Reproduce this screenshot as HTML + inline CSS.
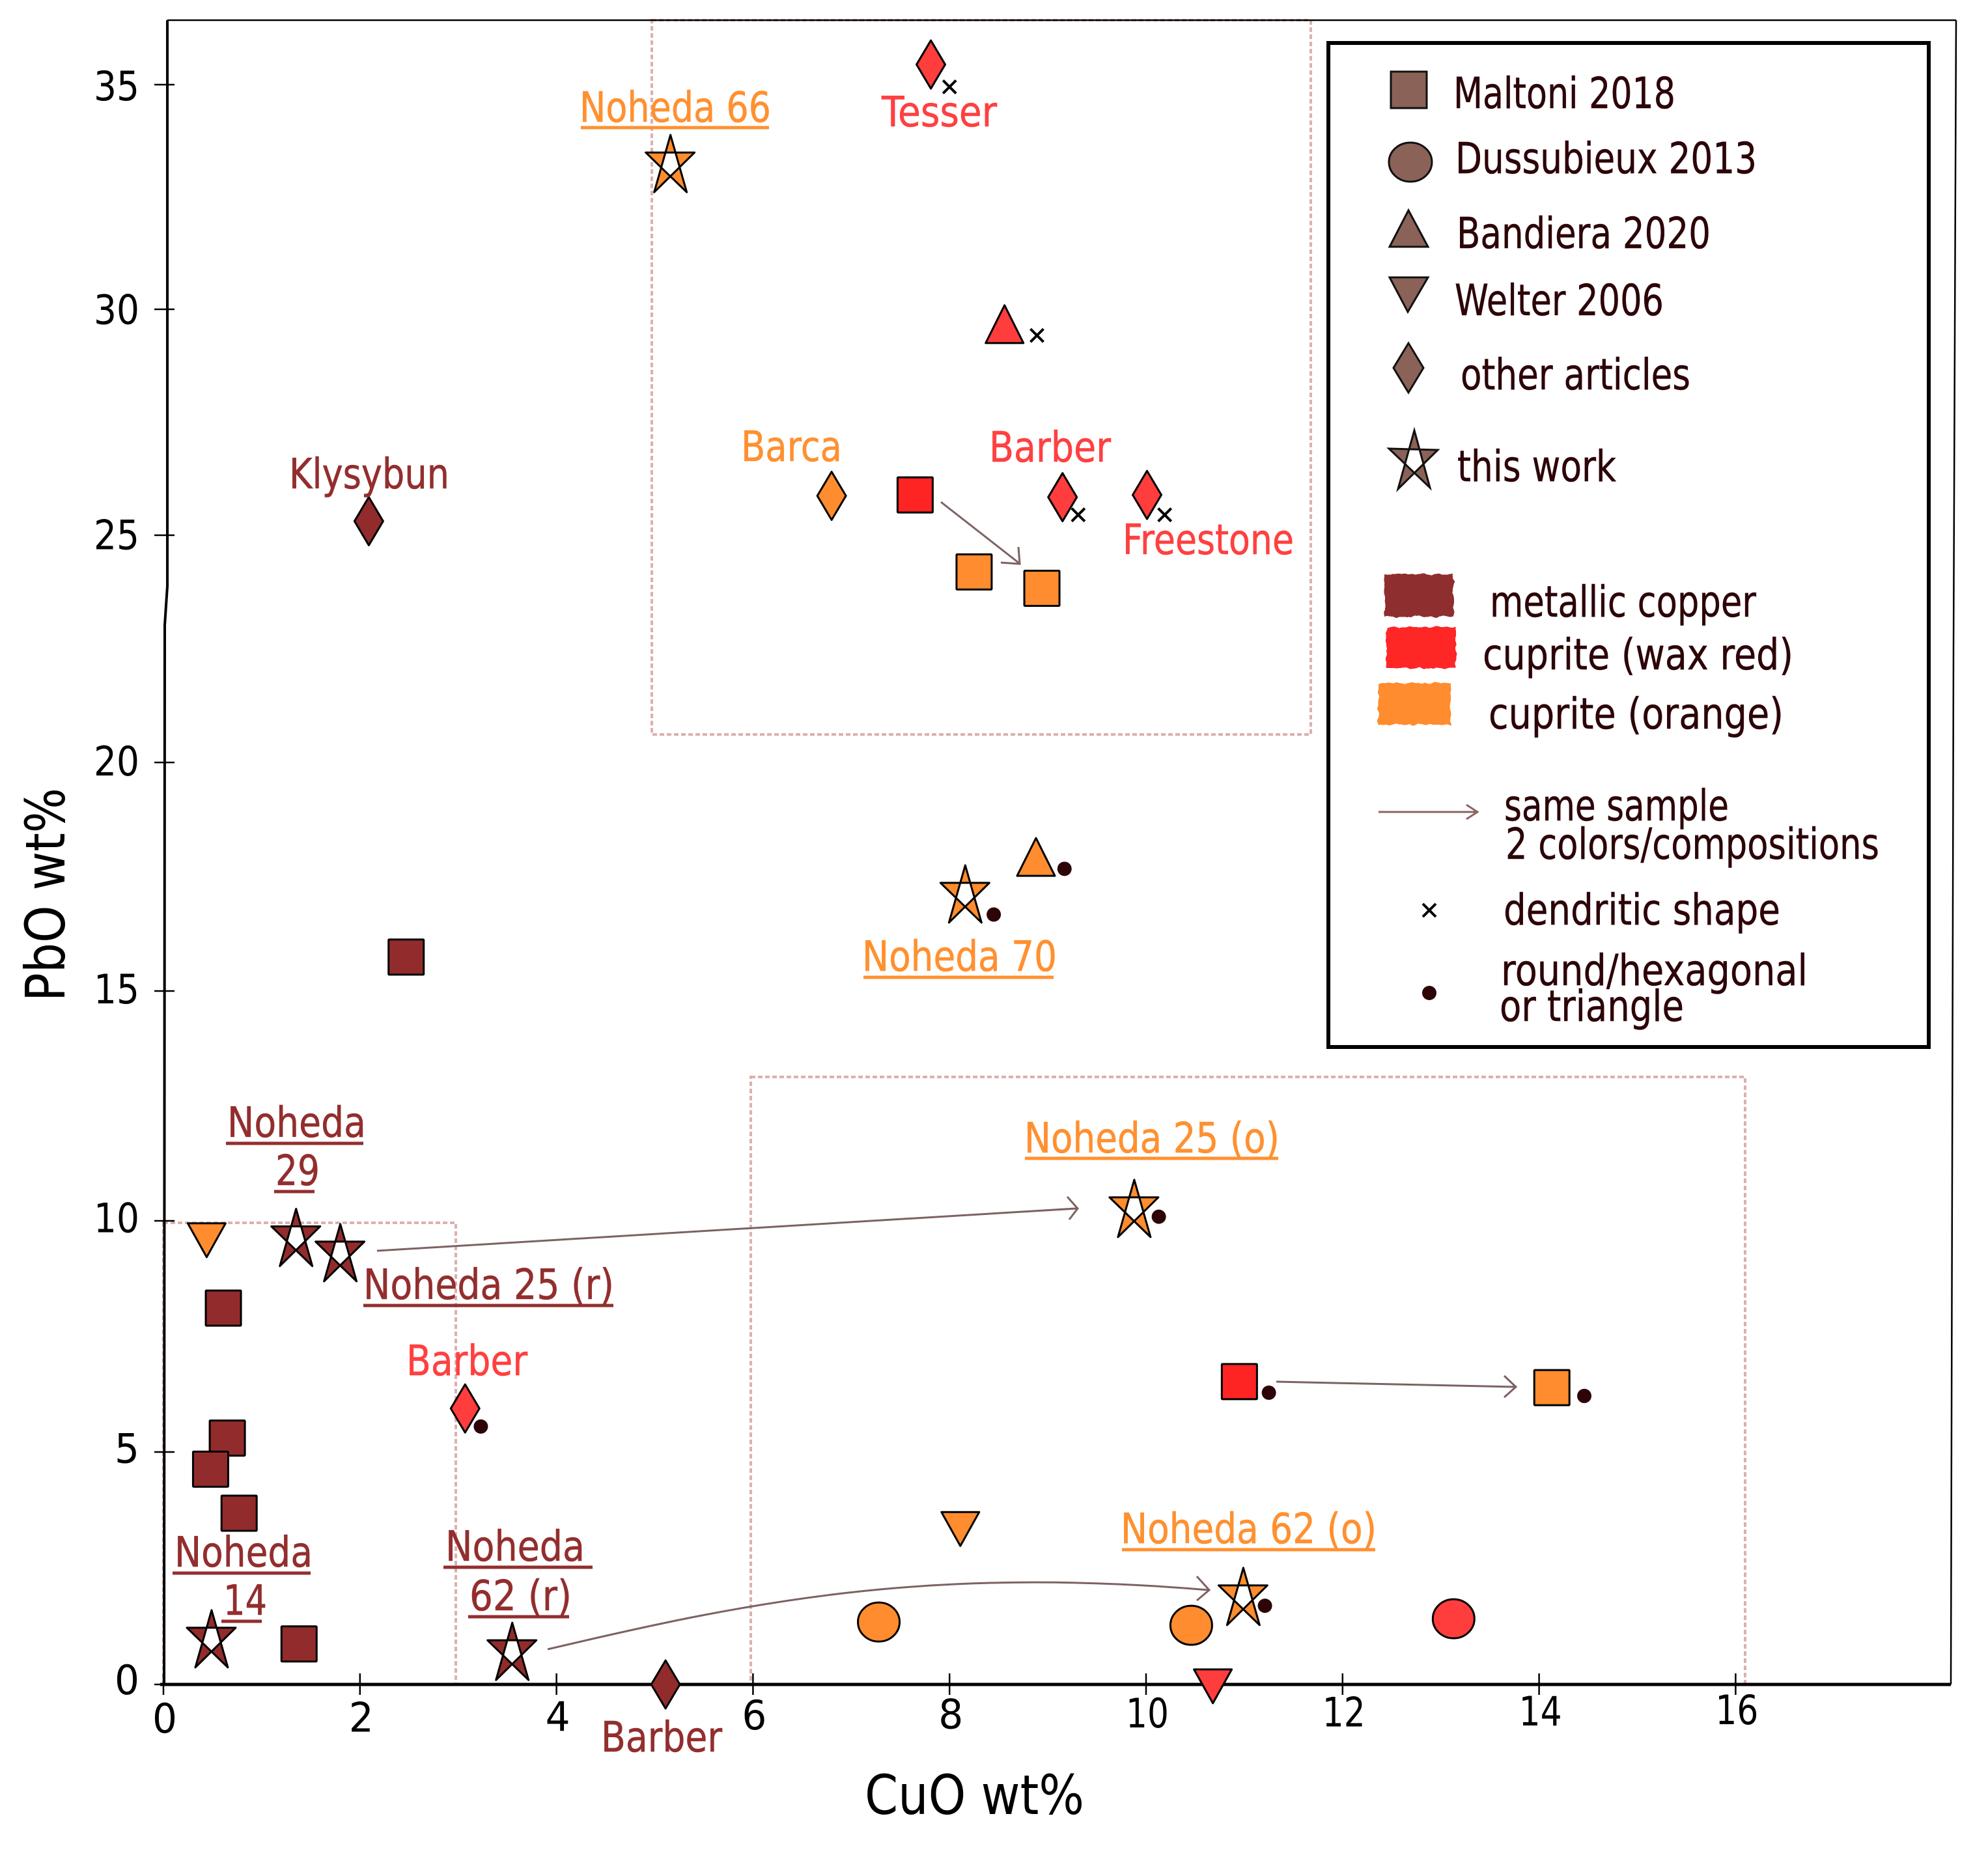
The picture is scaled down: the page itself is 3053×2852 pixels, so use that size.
<!DOCTYPE html>
<html lang="en">
<head>
<meta charset="utf-8">
<title>CuO vs PbO scatter chart</title>
<style>
html,body{margin:0;padding:0;background:#fff;}
svg{display:block;}
text{font-family:"DejaVu Sans","Liberation Sans",sans-serif;}
.lg{font-size:66px;fill:#2d0508;stroke:#2d0508;stroke-width:.5;}
.an{font-size:64px;stroke-width:.6;}
.dark{fill:#932e2e;stroke:#932e2e;}
.red{fill:#ff4040;stroke:#ff4040;}
.org{fill:#ff9030;stroke:#ff9030;}
.tick{font-size:62px;fill:#000;}
.title{font-size:84px;fill:#000;}
.ul-dark{stroke:#932e2e;stroke-width:5;}
.ul-org{stroke:#ff9030;stroke-width:5;}
.box{fill:none;stroke:#dcb0b0;stroke-width:4;stroke-dasharray:7 4;}
.arrow{fill:none;stroke:#7d6262;stroke-width:3;}
.lm{fill:#8a6257;stroke:#111;stroke-width:3;}
</style>
</head>
<body>
<svg id="chart" xmlns="http://www.w3.org/2000/svg" width="3053" height="2852" viewBox="0 0 3053 2852">
  <defs>
    <filter id="brush" x="-5%" y="-10%" width="110%" height="120%">
      <feTurbulence type="fractalNoise" baseFrequency="0.08" numOctaves="2" seed="4" result="n"/>
      <feDisplacementMap in="SourceGraphic" in2="n" scale="7"/>
    </filter>
  </defs>
  <rect x="0" y="0" width="3053" height="2852" fill="#fff"/>

  <g>
    <rect class="box" x="1001" y="31" width="1012" height="1097"/>
    <rect class="box" x="1153" y="1654" width="1527" height="933"/>
    <rect class="box" x="251" y="1878" width="449" height="709"/>
  </g>

  <g fill="none" stroke="#000">
    <path stroke-width="2.5" d="M257 31H3004"/>
    <path stroke-width="2.5" d="M3004 31L3000 1000L2996 2587"/>
    <path stroke-width="4" d="M257 31L257 900L253 960L252 2587"/>
    <path stroke-width="5" d="M246 2587H2996"/>
  </g>
  <g id="ticks"></g>

  <text class="title" x="1328" y="2786" textLength="337" lengthAdjust="spacingAndGlyphs">CuO wt%</text>
  <text class="title" transform="translate(99 1538) rotate(-90)" x="0" y="0" textLength="328" lengthAdjust="spacingAndGlyphs">PbO wt%</text>

  <g>
    <g class="arrow"><path d="M1445 771L1564 864M1564 840L1566 866L1537 864"/></g>
    <g class="arrow"><path d="M579 1921L1653 1856M1639 1838L1655 1856L1642 1873"/></g>
    <g class="arrow"><path d="M1960 2122L2327 2130M2310 2113L2328 2130L2310 2146"/></g>
    <g class="arrow"><path d="M841 2533C1150 2460 1420 2405 1856 2442M1838 2421L1857 2442L1838 2458"/></g>
  </g>

  <g id="marks"></g>

  <g>
    <text class="an org" x="890" y="187" textLength="294" lengthAdjust="spacingAndGlyphs">Noheda 66</text>
    <line class="ul-org" x1="892" x2="1181" y1="196" y2="196"/>
    <text class="an red" x="1354" y="194" textLength="177" lengthAdjust="spacingAndGlyphs">Tesser</text>
    <text class="an org" x="1138" y="708" textLength="155" lengthAdjust="spacingAndGlyphs">Barca</text>
    <text class="an red" x="1519" y="709" textLength="187" lengthAdjust="spacingAndGlyphs">Barber</text>
    <text class="an red" x="1724" y="851" textLength="263" lengthAdjust="spacingAndGlyphs">Freestone</text>
    <text class="an dark" x="444" y="750" textLength="246" lengthAdjust="spacingAndGlyphs">Klysybun</text>
    <text class="an org" x="1324" y="1491" textLength="299" lengthAdjust="spacingAndGlyphs">Noheda 70</text>
    <line class="ul-org" x1="1326" x2="1618" y1="1501" y2="1501"/>
    <text class="an dark" x="349" y="1746" textLength="213" lengthAdjust="spacingAndGlyphs">Noheda</text>
    <line class="ul-dark" x1="347" x2="558" y1="1756" y2="1756"/>
    <text class="an dark" x="423" y="1820" textLength="68" lengthAdjust="spacingAndGlyphs">29</text>
    <line class="ul-dark" x1="421" x2="483" y1="1830" y2="1830"/>
    <text class="an dark" x="558" y="1995" textLength="385" lengthAdjust="spacingAndGlyphs">Noheda 25 (r)</text>
    <line class="ul-dark" x1="558" x2="942" y1="2005" y2="2005"/>
    <text class="an red" x="624" y="2112" textLength="186" lengthAdjust="spacingAndGlyphs">Barber</text>
    <text class="an dark" x="268" y="2406" textLength="212" lengthAdjust="spacingAndGlyphs">Noheda</text>
    <line class="ul-dark" x1="265" x2="477" y1="2416" y2="2416"/>
    <text class="an dark" x="343" y="2480" textLength="67" lengthAdjust="spacingAndGlyphs">14</text>
    <line class="ul-dark" x1="340" x2="402" y1="2490" y2="2490"/>
    <text class="an dark" x="684" y="2397" textLength="214" lengthAdjust="spacingAndGlyphs">Noheda</text>
    <line class="ul-dark" x1="681" x2="910" y1="2407" y2="2407"/>
    <text class="an dark" x="721" y="2473" textLength="157" lengthAdjust="spacingAndGlyphs">62 (r)</text>
    <line class="ul-dark" x1="719" x2="874" y1="2483" y2="2483"/>
    <text class="an dark" x="923" y="2690" textLength="186" lengthAdjust="spacingAndGlyphs">Barber</text>
    <text class="an org" x="1573" y="1770" textLength="392" lengthAdjust="spacingAndGlyphs">Noheda 25 (o)</text>
    <line class="ul-org" x1="1574" x2="1963" y1="1779" y2="1779"/>
    <text class="an org" x="1721" y="2370" textLength="393" lengthAdjust="spacingAndGlyphs">Noheda 62 (o)</text>
    <line class="ul-org" x1="1723" x2="2112" y1="2380" y2="2380"/>
  </g>

  <g>
    <rect x="2040" y="66" width="922" height="1542" fill="#fff" stroke="#000" stroke-width="6"/>

    <rect class="lm" x="2136" y="110" width="55" height="56"/>
    <text class="lg" x="2232" y="166" textLength="341" lengthAdjust="spacingAndGlyphs">Maltoni 2018</text>
    <ellipse class="lm" cx="2166" cy="249" rx="33" ry="30"/>
    <text class="lg" x="2235" y="266" textLength="463" lengthAdjust="spacingAndGlyphs">Dussubieux 2013</text>
    <polygon class="lm" points="2163,323 2193,379 2134,379"/>
    <text class="lg" x="2237" y="381" textLength="390" lengthAdjust="spacingAndGlyphs">Bandiera 2020</text>
    <polygon class="lm" points="2134,426 2193,426 2162,479"/>
    <text class="lg" x="2234" y="484" textLength="321" lengthAdjust="spacingAndGlyphs">Welter 2006</text>
    <polygon class="lm" points="2163,527 2186,565 2163,603 2140,565"/>
    <text class="lg" x="2243" y="598" textLength="353" lengthAdjust="spacingAndGlyphs">other articles</text>
    <polygon class="lm" fill-rule="evenodd" points="2172,661 2196,749 2133,689 2208,691 2147,751"/>
    <text class="lg" x="2238" y="739" textLength="244" lengthAdjust="spacingAndGlyphs">this work</text>

    <rect fill="#8f2d2d" filter="url(#brush)" x="2126" y="882" width="106" height="65"/>
    <text class="lg" x="2288" y="947" textLength="409" lengthAdjust="spacingAndGlyphs">metallic copper</text>
    <rect fill="#ff2626" filter="url(#brush)" x="2129" y="963" width="107" height="63"/>
    <text class="lg" x="2277" y="1028" textLength="477" lengthAdjust="spacingAndGlyphs">cuprite (wax red)</text>
    <rect fill="#ff8c2e" filter="url(#brush)" x="2116" y="1049" width="112" height="64"/>
    <text class="lg" x="2286" y="1119" textLength="453" lengthAdjust="spacingAndGlyphs">cuprite (orange)</text>

    <path d="M2117 1247H2268M2252 1236L2269 1247L2252 1258" fill="none" stroke="#8a6565" stroke-width="3"/>
    <text class="lg" x="2310" y="1260" textLength="345" lengthAdjust="spacingAndGlyphs">same sample</text>
    <text class="lg" x="2312" y="1319" textLength="574" lengthAdjust="spacingAndGlyphs">2 colors/compositions</text>
    <path d="M2185 1388L2205 1408M2205 1388L2185 1408" stroke="#000" stroke-width="4"/>
    <text class="lg" x="2309" y="1420" textLength="425" lengthAdjust="spacingAndGlyphs">dendritic shape</text>
    <circle cx="2195" cy="1525" r="11" fill="#2d0508"/>
    <text class="lg" x="2305" y="1513" textLength="471" lengthAdjust="spacingAndGlyphs">round/hexagonal</text>
    <text class="lg" x="2303" y="1568" textLength="283" lengthAdjust="spacingAndGlyphs">or triangle</text>
  </g>
</svg>

<script>
// Tick labels
const xTicks = [0, 2, 4, 6, 8, 10, 12, 14, 16];
const yTicks = [0, 5, 10, 15, 20, 25, 30, 35];

// Squares
const squareCuO = [0.61, 0.65, 0.48, 0.77, 1.38, 2.47, 7.65, 10.95, 8.25, 8.94, 14.13];
const squarePbO = [8.11, 5.30, 4.63, 3.68, 0.87, 15.74, 25.89, 6.52, 24.19, 23.83, 6.39];
const squareColor = ['metal', 'metal', 'metal', 'metal', 'metal', 'metal', 'wax', 'wax', 'orange', 'orange', 'orange'];

// Circles
const circleCuO = [7.28, 10.46, 13.13];
const circlePbO = [1.34, 1.27, 1.41];
const circleColor = ['orange', 'orange', 'red'];

// Upward triangles
const triUpCuO = [8.56, 8.88];
const triUpPbO = [29.67, 17.93];
const triUpColor = ['red', 'orange'];

// Downward triangles
const triDownCuO = [0.44, 8.11, 10.68];
const triDownPbO = [9.58, 3.34, -0.04];
const triDownColor = ['orange', 'orange', 'red'];

// Diamonds
const diamondCuO = [7.81, 9.15, 10.01, 6.80, 2.09, 3.07, 5.11];
const diamondPbO = [35.45, 25.84, 25.89, 25.87, 25.31, 5.94, 0];
const diamondColor = ['red', 'red', 'red', 'orange', 'metal', 'red', 'metal'];

// Stars (this work)
const starCuO = [5.16, 8.16, 1.35, 1.80, 0.49, 3.55, 9.88, 10.99];
const starPbO = [33.24, 17.12, 9.64, 9.31, 0.98, 0.71, 10.27, 1.89];
const starColor = ['orange', 'orange', 'metal', 'metal', 'metal', 'metal', 'orange', 'orange'];

// Crystal habit markers
const crossCuO = [8.00, 8.89, 9.31, 10.19];
const crossPbO = [34.95, 29.42, 25.45, 25.45];
const dotCuO = [3.23, 9.17, 8.45, 10.13, 11.25, 14.46, 11.21];
const dotPbO = [5.55, 17.67, 16.67, 10.09, 6.28, 6.21, 1.69];

const pigmentFill = { metal: '#922c2c', wax: '#ff2424', red: '#ff3d3d', orange: '#ff8c2e' };

const NS = 'http://www.w3.org/2000/svg';
function sx(v) { return 251 + 150.9 * v; }
function sy(v) { return 2587 - 71.6 * v + 0.04 * v * v; }

const marks = document.getElementById('marks');
const ticks = document.getElementById('ticks');

function addMark(tag, attrs, fill) {
  const el = document.createElementNS(NS, tag);
  Object.keys(attrs).forEach(function (k) { el.setAttribute(k, attrs[k]); });
  el.setAttribute('fill', fill);
  el.setAttribute('stroke', '#000');
  el.setAttribute('stroke-width', '3');
  el.setAttribute('stroke-linejoin', 'round');
  marks.appendChild(el);
  return el;
}
function poly(cx, cy, pts) {
  return pts.map(function (p) { return (cx + p[0]) + ',' + (cy + p[1]); }).join(' ');
}

xTicks.forEach(function (t) {
  const line = document.createElementNS(NS, 'line');
  
  
  line.setAttribute('x1', sx(t));
  line.setAttribute('x2', sx(t));
  line.setAttribute('y1', 2570);
  line.setAttribute('y2', 2603);
  line.setAttribute('stroke', '#000');
  line.setAttribute('stroke-width', '2.5');
  ticks.appendChild(line);
  const label = document.createElementNS(NS, 'text');
  
  
  label.setAttribute('class', 'tick');
  label.setAttribute('x', sx(t) + 2);
  label.setAttribute('y', 2661 - 0.8 * t);
  label.setAttribute('text-anchor', 'middle');
  label.setAttribute('textLength', t < 10 ? 38 : 66);
  label.setAttribute('lengthAdjust', 'spacingAndGlyphs');
  label.textContent = t;
  ticks.appendChild(label);
});

yTicks.forEach(function (t) {
  const line = document.createElementNS(NS, 'line');
  
  
  line.setAttribute('x1', 237);
  line.setAttribute('x2', 268);
  line.setAttribute('y1', sy(t));
  line.setAttribute('y2', sy(t));
  line.setAttribute('stroke', '#000');
  line.setAttribute('stroke-width', '2.5');
  ticks.appendChild(line);
  const label = document.createElementNS(NS, 'text');
  
  
  label.setAttribute('class', 'tick');
  label.setAttribute('x', 214);
  label.setAttribute('y', sy(t) + 15 + 0.25 * t);
  label.setAttribute('text-anchor', 'end');
  label.setAttribute('textLength', t < 10 ? 38 : 70);
  label.setAttribute('lengthAdjust', 'spacingAndGlyphs');
  label.textContent = t;
  ticks.appendChild(label);
});

squareCuO.forEach(function (v, i) {
  const el = addMark('rect', { x: sx(v) - 27, y: sy(squarePbO[i]) - 27, width: 54, height: 54, rx: 1 }, pigmentFill[squareColor[i]]);
  
  
});
circleCuO.forEach(function (v, i) {
  const el = addMark('ellipse', { cx: sx(v), cy: sy(circlePbO[i]), rx: 32, ry: 30 }, pigmentFill[circleColor[i]]);
  
  
});
triUpCuO.forEach(function (v, i) {
  const el = addMark('polygon', { points: poly(sx(v), sy(triUpPbO[i]), [[0, -29], [29, 29], [-29, 29]]) }, pigmentFill[triUpColor[i]]);
  
  
});
triDownCuO.forEach(function (v, i) {
  const el = addMark('polygon', { points: poly(sx(v), sy(triDownPbO[i]), [[-29, -26], [29, -26], [0, 26]]) }, pigmentFill[triDownColor[i]]);
  
  
});
diamondCuO.forEach(function (v, i) {
  const el = addMark('polygon', { points: poly(sx(v), sy(diamondPbO[i]), [[0, -37], [22, 0], [0, 37], [-22, 0]]) }, pigmentFill[diamondColor[i]]);
  
  
});
starCuO.forEach(function (v, i) {
  const cx = sx(v), cy = sy(starPbO[i]);
  const bg = addMark('circle', { cx: cx, cy: cy, r: 10 }, '#fff');
  bg.setAttribute('stroke', 'none');
  
  
  const el = addMark('polygon', { points: poly(cx, cy, [[0, -44], [25, 44], [-38, -17], [37, -17], [-25, 44]]) }, pigmentFill[starColor[i]]);
  el.setAttribute('fill-rule', 'evenodd');
  
  
});
crossCuO.forEach(function (v, i) {
  const cx = sx(v), cy = sy(crossPbO[i]);
  const el = addMark('path', { d: 'M' + (cx - 10) + ' ' + (cy - 10) + 'L' + (cx + 10) + ' ' + (cy + 10) + 'M' + (cx + 10) + ' ' + (cy - 10) + 'L' + (cx - 10) + ' ' + (cy + 10) }, 'none');
  el.setAttribute('stroke-width', '4');
  
  
});
dotCuO.forEach(function (v, i) {
  const el = addMark('circle', { cx: sx(v), cy: sy(dotPbO[i]), r: 11 }, '#2d0508');
  el.setAttribute('stroke', 'none');
  
  
});
</script>
</body>
</html>
